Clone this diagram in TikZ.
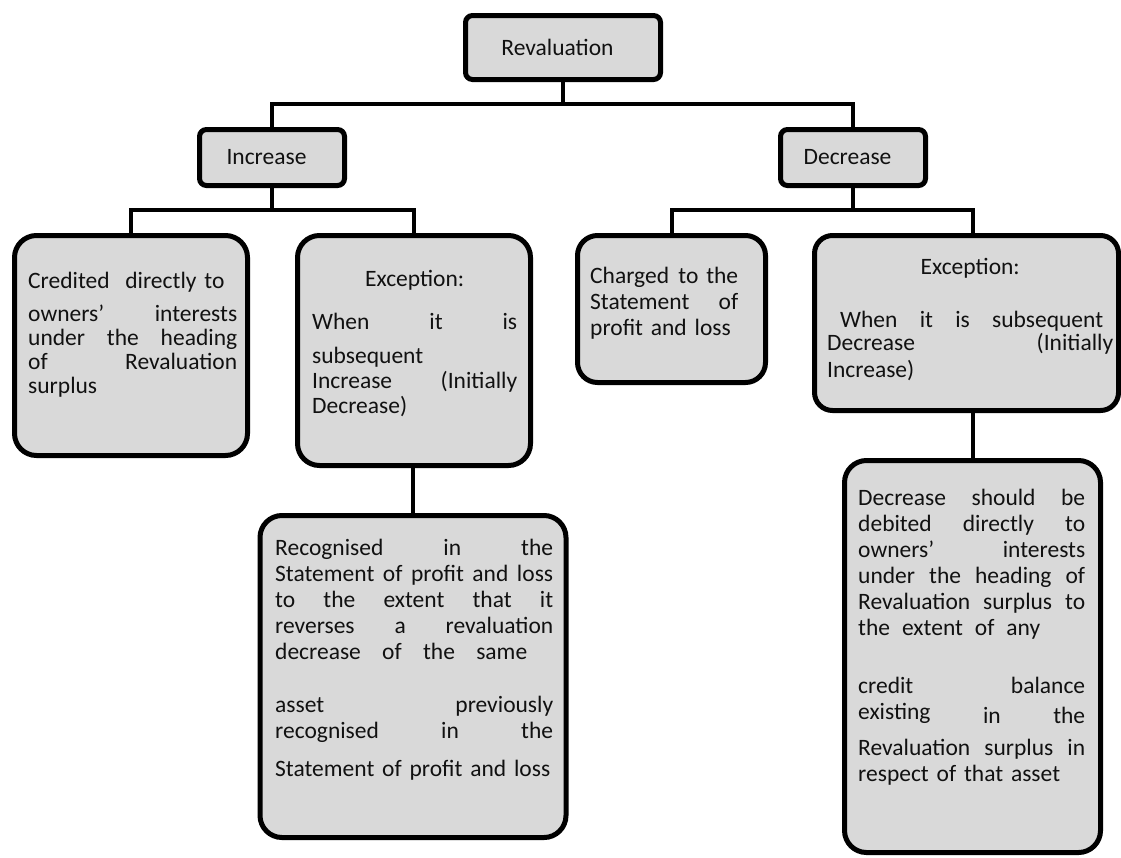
\documentclass[tikz,border=0pt]{standalone}
\usepackage{fontspec}
\setmainfont{Carlito}
\definecolor{boxgray}{HTML}{D9D9D9}
\definecolor{ink}{HTML}{111111}
% one line stretched to the full text width (words separated by \hfill)
\newcommand\justline[1]{\makebox[\linewidth][s]{#1}}
\begin{document}
\begin{tikzpicture}[x=1pt,y=-1pt,
  box/.style={draw=black, line width=5pt, fill=boxgray, inner sep=0pt, text=ink},
  small/.style={box, rounded corners=7pt, minimum width=145pt, minimum height=56pt,
                font=\fontsize{23.5pt}{26pt}\selectfont},
  big/.style={box, rounded corners=22pt},
  link/.style={draw=black, line width=4pt},
  txt/.style={anchor=base west, inner sep=0pt, align=left, text=ink,
              font=\fontsize{23.5pt}{#1}\selectfont}
]
\useasboundingbox (0,0) rectangle (1121,857);

% top level
\node[small, minimum width=195pt, minimum height=64pt] (rev) at (563,47.5) {\hspace*{-11pt}Revaluation};

% second level
\node[small] (inc) at (272,157.5) {\hspace*{-11pt}Increase};
\node[small] (dec) at (853,157.5) {\hspace*{-11pt}Decrease};

% third level
\node[big, minimum width=233pt, minimum height=220pt] (cred) at (131,345.5) {};
\node[big, minimum width=233pt, minimum height=230pt] (exL) at (414,350.5) {};
\node[big, minimum width=188pt, minimum height=147pt, rounded corners=20pt] (chg) at (671.5,309) {};
\node[big, minimum width=304pt, minimum height=175pt, rounded corners=18pt] (exR) at (966.5,323) {};

% fourth level
\node[big, minimum width=306pt, minimum height=322pt] (recog) at (413,676.5) {};
\node[big, minimum width=256pt, minimum height=392pt] (debit) at (972.5,656.5) {};

% connectors
\coordinate (j1) at (563,104);
\coordinate (j2) at (272,210);
\coordinate (j3) at (853,210);
\draw[link] (rev.south) -- (j1);
\draw[link] (inc.north) |- (j1) -| (dec.north);
\draw[link] (inc.south) -- (j2);
\draw[link] (cred.north) |- (j2) -| (exL.north);
\draw[link] (dec.south) -- (j3);
\draw[link] (chg.north) |- (j3) -| (exR.north -| debit.north);
\draw[link] (exL.south -| recog.north) -- (recog.north);
\draw[link] (exR.south -| debit.north) -- (debit.north);

% box texts
\node[txt=24pt, text width=209pt] (t1) at (28,288) {%
Credited~ directly to\\[9pt]
\justline{owners’\hfill interests}\\
\justline{under\hfill the\hfill heading}\\
\justline{of\hfill Revaluation}\\
surplus};

\node[txt=25pt, text width=205pt] (t2) at (312,286) {%
\makebox[\linewidth][c]{Exception:}\\[18pt]
\justline{When\hfill it\hfill is}\\[9pt]
subsequent\\
\justline{Increase\hfill (Initially}\\
Decrease)};

\node[txt=26pt, text width=148pt] (t3) at (590,283) {%
\justline{Charged\hfill to the}\\
\justline{Statement\hfill of}\\
profit and loss};

\node[txt=25pt, text width=286pt] (t4) at (827,274) {%
\makebox[\linewidth][c]{Exception:}\\[28pt]
\justline{\hspace{13pt}When\hfill it\hfill is\hfill subsequent\hspace{10pt}}\\[-2pt]
\justline{Decrease\hfill (Initially}\\[2pt]
Increase)};

\node[txt=26pt, text width=278pt] (t5) at (275,555) {%
\justline{Recognised\hfill in\hfill the}\\
\justline{Statement\hfill of\hfill profit\hfill and\hfill loss}\\
\justline{to\hfill the\hfill extent\hfill that\hfill it}\\
\justline{reverses\hfill a\hfill revaluation}\\
\makebox[252pt][s]{decrease\hfill of\hfill the\hfill same}\\[27pt]
\justline{asset\hfill previously}\\
\justline{recognised\hfill in\hfill the}\\[12pt]
\mbox{Statement of profit and loss}};

\node[txt=26pt, text width=227pt] (t6) at (858,505) {%
\justline{Decrease\hfill should\hfill be}\\
\justline{debited\hfill directly\hfill to}\\
\justline{owners’\hfill interests}\\
\justline{under\hfill the\hfill heading\hfill of}\\
\justline{Revaluation\hfill surplus\hfill to}\\
\makebox[182pt][s]{the\hfill extent\hfill of\hfill any}\\[32pt]
credit\hfill balance\hspace*{7pt}\\
existing\hfill\raisebox{-4pt}{in}\hfill\raisebox{-4pt}{the}\\[10pt]
\justline{Revaluation\hfill surplus\hfill in}\\
respect of that asset};
\end{tikzpicture}
\end{document}
